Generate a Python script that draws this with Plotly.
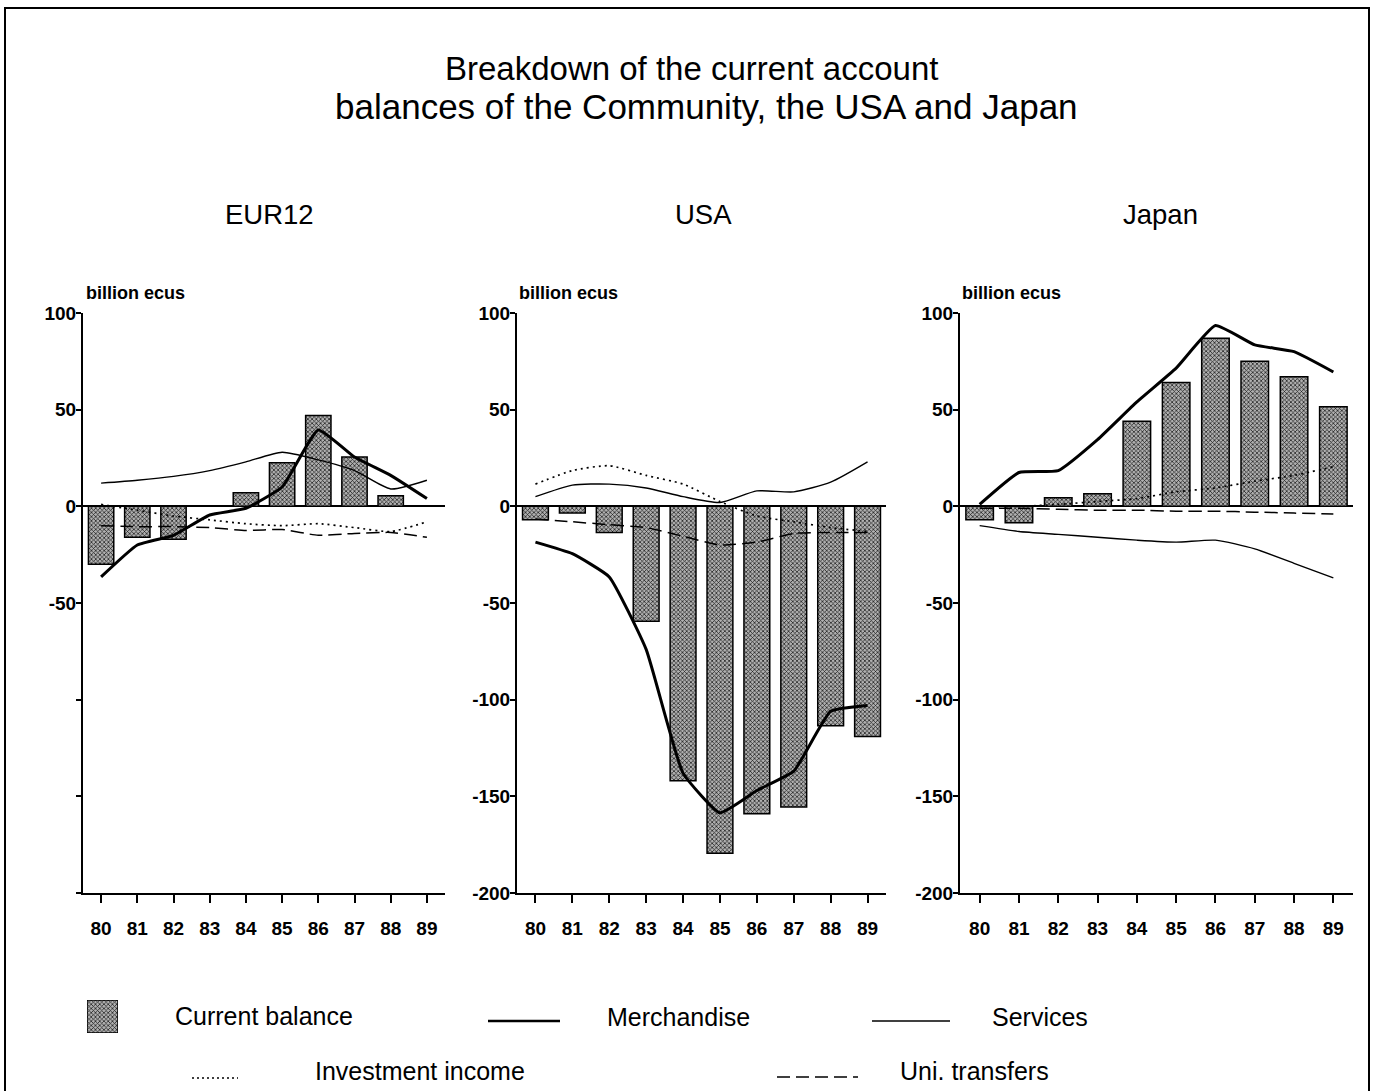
import plotly.graph_objects as go

# ---------------- data (billion ecus) ----------------
years = [80, 81, 82, 83, 84, 85, 86, 87, 88, 89]
year_labels = ["80", "81", "82", "83", "84", "85", "86", "87", "88", "89"]

eur_current = [-30, -16, -17, 0, 7, 22.5, 47, 25.5, 5.5, 0]
eur_merch = [-36.5, -20, -15, -4.5, -1, 10, 39.5, 25.5, 16, 4]
eur_serv = [12, 13.5, 15.5, 18.5, 23, 28, 24, 18.5, 9, 13.5]
eur_inv = [1, -2, -5, -7, -9, -10, -9, -11, -13, -8]
eur_uni = [-10, -10.5, -10.5, -11, -12.5, -12, -15, -14, -13.5, -16]

usa_current = [-7, -3.5, -13.5, -59.5, -142, -179.5, -159, -155.5, -113.5, -119]
usa_merch = [-18.5, -24.5, -36.5, -74, -138, -158.5, -147, -137, -106, -103]
usa_serv = [5, 11, 11.5, 9.5, 5, 2, 8, 7.5, 12.5, 23]
usa_inv = [11.5, 18.5, 21, 16, 11.5, 2.5, -5, -8, -11, -13]
usa_uni = [-6.5, -8, -9.5, -11, -15.5, -20, -18.5, -14, -13.5, -13.5]

jap_current = [-7, -8.5, 4.5, 6.5, 44, 64, 87, 75, 67, 51.5]
jap_merch = [1, 17.5, 18.5, 34.5, 54, 71.5, 93.5, 83.5, 80, 69.5]
jap_serv = [-10, -13, -14.5, -16, -17.5, -18.5, -17.5, -22, -29.5, -37]
jap_inv = [0, 0, 1, 2.5, 4, 7.5, 9.5, 13, 16, 20.5]
jap_uni = [-1, -1, -1.5, -2, -2, -2.5, -2.5, -3, -3.5, -4]

panel_names = ["EUR12", "USA", "Japan"]
y_tickvals = [100, 50, 0, -50, -100, -150, -200]
y_ticktext_eur = ["100", "50", "0", "-50", "", "", ""]
y_ticktext_other = ["100", "50", "0", "-50", "-100", "-150", "-200"]
legend_labels = ["Current balance", "Merchandise", "Services", "Investment income", "Uni. transfers"]

# ---------------- layout helpers ----------------
W, H = 1374, 1091
FONT = "Liberation Sans, Arial, Helvetica, sans-serif"


def X(px):
    return px / W


def Y(py):
    return 1 - py / H


panels = [
    dict(x0=83, x1=445, cur=eur_current, mer=eur_merch, ser=eur_serv, inv=eur_inv, uni=eur_uni,
         tt=y_ticktext_eur, title_x=269, lab_x=84),
    dict(x0=517, x1=886, cur=usa_current, mer=usa_merch, ser=usa_serv, inv=usa_inv, uni=usa_uni,
         tt=y_ticktext_other, title_x=703, lab_x=517),
    dict(x0=960, x1=1353, cur=jap_current, mer=jap_merch, ser=jap_serv, inv=jap_inv, uni=jap_uni,
         tt=y_ticktext_other, title_x=1160, lab_x=960),
]
PY_TOP, PY_BOT = 313, 893

bar_marker = dict(
    color="#888888",
    line=dict(color="black", width=1.5),
    pattern=dict(shape="x", fgcolor="#1a1a1a", bgcolor="#b0b0b0", size=3, solidity=0.42),
)

fig = go.Figure()
layout = dict(
    template="none",
    width=W, height=H, margin=dict(l=0, r=0, t=0, b=0, pad=0, autoexpand=False), autosize=False,
    paper_bgcolor="white", plot_bgcolor="white", showlegend=False,
    font=dict(family=FONT, color="black"),
)
annotations = []
shapes = []

for i, p in enumerate(panels):
    n = "" if i == 0 else str(i + 1)
    xa, ya = "x" + n, "y" + n
    fig.add_trace(go.Bar(x=years, y=p["cur"], width=0.7, marker=bar_marker, xaxis=xa, yaxis=ya))
    fig.add_trace(go.Scatter(x=years, y=p["ser"], mode="lines", xaxis=xa, yaxis=ya,
                             line=dict(color="black", width=1.4, shape="spline", smoothing=0.6)))
    fig.add_trace(go.Scatter(x=years, y=p["inv"], mode="lines", xaxis=xa, yaxis=ya,
                             line=dict(color="black", width=1.7, dash="2px,4px", shape="spline", smoothing=0.6)))
    fig.add_trace(go.Scatter(x=years, y=p["uni"], mode="lines", xaxis=xa, yaxis=ya,
                             line=dict(color="black", width=1.5, dash="13px,6px", shape="spline", smoothing=0.5)))
    fig.add_trace(go.Scatter(x=years, y=p["mer"], mode="lines", xaxis=xa, yaxis=ya,
                             line=dict(color="black", width=3, shape="spline", smoothing=0.4)))

    layout["xaxis" + n] = dict(
        domain=[X(p["x0"]), X(p["x1"])], anchor=ya, range=[79.5, 89.5], automargin=False,
        tickvals=years, ticktext=year_labels, ticks="outside", ticklen=8, tickwidth=1.5,
        tickcolor="black", showline=True, linecolor="black", linewidth=2, showgrid=False,
        zeroline=False, tickfont=dict(size=19, family=FONT, color="black", weight="bold"),
        ticklabelstandoff=9, fixedrange=True,
    )
    layout["yaxis" + n] = dict(
        domain=[Y(PY_BOT), Y(PY_TOP)], anchor=xa, range=[-200, 100], automargin=False,
        tickvals=y_tickvals, ticktext=p["tt"], ticks="outside", ticklen=5, tickwidth=1.5,
        tickcolor="black", showline=True, linecolor="black", linewidth=2, showgrid=False,
        zeroline=True, zerolinecolor="black", zerolinewidth=2,
        tickfont=dict(size=19, family=FONT, color="black", weight="bold"), ticklabelstandoff=-4,
        fixedrange=True,
    )
    annotations.append(dict(text=panel_names[i], x=X(p["title_x"]), y=Y(215), xref="paper", yref="paper",
                            xanchor="center", yanchor="middle", showarrow=False,
                            font=dict(size=27.5, family=FONT)))
    annotations.append(dict(text="billion ecus", x=X(p["lab_x"]), y=Y(293), xref="paper", yref="paper",
                            xanchor="left", yanchor="middle", showarrow=False,
                            font=dict(size=18, family=FONT, weight="bold")))

# main title
annotations.append(dict(text="Breakdown of the current account", x=X(691), y=Y(68), xref="paper", yref="paper",
                        xanchor="center", yanchor="middle", showarrow=False, font=dict(size=33, family=FONT)))
annotations.append(dict(text="balances of the Community, the USA and Japan", x=X(706), y=Y(106), xref="paper",
                        yref="paper", xanchor="center", yanchor="middle", showarrow=False,
                        font=dict(size=35, family=FONT)))

# ---------------- manual legend ----------------
# patterned swatch drawn as a bar on a hidden axis
fig.add_trace(go.Bar(x=[0], y=[1], width=1, marker=bar_marker, xaxis="x4", yaxis="y4", hoverinfo="skip"))
layout["xaxis4"] = dict(domain=[X(87), X(118)], anchor="y4", range=[-0.5, 0.5], visible=False, fixedrange=True)
layout["yaxis4"] = dict(domain=[Y(1033), Y(1000)], anchor="x4", range=[0, 1], visible=False, fixedrange=True)

leg_items = [
    (legend_labels[0], 173, 1016),
    (legend_labels[1], 605, 1017),
    (legend_labels[2], 990, 1017),
    (legend_labels[3], 313, 1071),
    (legend_labels[4], 898, 1071),
]
for txt, lx, ly in leg_items:
    annotations.append(dict(text=txt, x=X(lx), y=Y(ly), xref="paper", yref="paper", xanchor="left",
                            yanchor="middle", showarrow=False, font=dict(size=25, family=FONT)))

shapes.append(dict(type="line", xref="paper", yref="paper", x0=X(488), x1=X(560), y0=Y(1021), y1=Y(1021),
                   line=dict(color="black", width=2.5)))
shapes.append(dict(type="line", xref="paper", yref="paper", x0=X(872), x1=X(950), y0=Y(1021), y1=Y(1021),
                   line=dict(color="black", width=1.3)))
shapes.append(dict(type="line", xref="paper", yref="paper", x0=X(192), x1=X(238), y0=Y(1078), y1=Y(1078),
                   line=dict(color="black", width=1.3, dash="2px,3px")))
shapes.append(dict(type="line", xref="paper", yref="paper", x0=X(777), x1=X(858), y0=Y(1077), y1=Y(1077),
                   line=dict(color="black", width=1.3, dash="13px,6px")))

# outer frame
shapes.append(dict(type="rect", xref="paper", yref="paper", x0=X(5), x1=X(1369), y0=Y(1095), y1=Y(8),
                   line=dict(color="black", width=2), fillcolor="rgba(0,0,0,0)"))

layout["annotations"] = annotations
layout["shapes"] = shapes
fig.update_layout(**layout)

fig.write_html("out.html", config={"displayModeBar": False, "responsive": False},
               post_script="document.body.style.margin='0';document.body.style.overflow='hidden';")
